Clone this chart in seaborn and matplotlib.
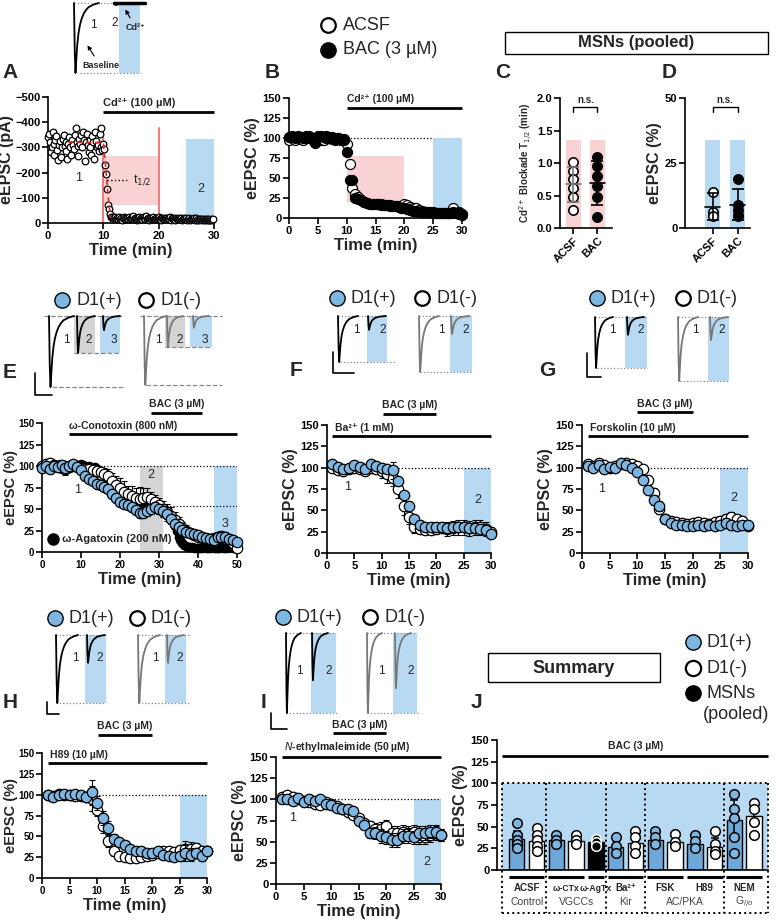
import matplotlib

matplotlib.use("Agg")

import matplotlib.pyplot as plt
import numpy as np
import pandas as pd
import seaborn as sns
from matplotlib.patches import Rectangle

W, H = 777, 922

BLUE_MARK = "#7db6e0"
BLUE_BAR = "#6ea8d9"
BLUE_BAND = "#b7d9f2"
PINK_BAND = "#f9d3d3"
GRAY_BAND = "#d4d4d4"
RED_LINE = "#ef7f7f"
TRACE_GRAY = "#777777"

# ---------------- data ----------------
# A: single cell, one sweep every 10 s
A_STEP = 1 / 6
A_BASELINE = [
    -340, -355, -320, -280, -300, -360, -315, -270, -330, -345,
    -290, -250, -310, -325, -260, -300, -335, -350, -305, -285,
    -320, -255, -315, -340, -300, -270, -330, -310, -295, -350,
    -375, -320, -305, -265, -335, -315, -350, -300, -360, -330,
    -245, -320, -355, -310, -280, -330, -300, -270, -345, -320,
    -255, -360, -325, -300, -310, -285, -355, -300, -375, -290,
]
A_TRANSITION = [-315, -295, -230, -195, -135, -70, -55, -35, -25]
A_TAIL = [
    -18, -22, -15, -20, -25, -14, -19, -17, -23, -16,
    -20, -13, -18, -24, -15, -21, -17, -19, -14, -22,
    -16, -20, -18, -26, -15, -19, -21, -13, -17, -20,
    -24, -16, -18, -14, -22, -19, -15, -28, -17, -20,
    -13, -18, -21, -16, -19, -23, -15, -17, -20, -14,
    -18, -22, -16, -19, -13, -21, -17, -15, -20, -18,
    -14, -19, -16, -22, -12, -18, -15, -20, -17, -13,
    -19, -16, -14, -21, -15, -18, -12, -17, -20, -14,
    -16, -19, -13, -15, -18, -11, -17, -14, -16, -20,
    -12, -15, -18, -13, -16, -10, -14, -17, -12, -15,
    -13, -16, -11, -14, -12, -15, -10, -13, -16, -12, -14,
]
A_FIT_T = [3.6, 10.0, 10.4, 10.8, 11.3]
A_FIT_Y = [-322, -318, -230, -120, -20]

# B: pooled MSNs, 30 s bins
B_STEP = 0.5
B_ACSF = [
    97, 100, 98, 101, 99, 97, 100, 102, 99, 96, 100, 98, 97, 100, 101, 99, 97, 100, 98, 99,
    92, 67, 38, 30, 26, 22, 20, 19, 18, 17, 17, 17, 16, 16, 16, 15, 15, 15, 15, 15,
    18, 16, 14, 13, 12, 10, 9, 8, 8, 7, 6, 6, 6, 6, 6, 6, 6, 12, 6, 5, 4,
]
B_BAC = [
    101, 102, 100, 103, 101, 100, 102, 101, 99, 94, 102, 103, 101, 102, 100, 101, 99, 100, 98, 97,
    82, 48, 47, 25, 24, 22, 20, 19, 18, 18, 17, 17, 17, 16, 16, 16, 15, 15, 14, 13,
    12, 11, 10, 9, 9, 8, 8, 7, 7, 7, 7, 6, 6, 6, 6, 6, 6, 7, 6, 7, 5,
]

# C / D: individual cells
C_ACSF = [1.02, 0.88, 0.75, 0.62, 0.48, 0.27]
C_BAC = [1.10, 0.96, 0.80, 0.64, 0.48, 0.17]
C_BAND = 1.35
D_ACSF = [14, 6, 4.5]
D_BAC = [19, 9, 7, 5, 4.5]
D_BAND = 34

# E: 1 min bins (agatoxin 30 s bins)
E_D1P = [98, 100, 97, 100, 99, 101, 98, 100, 102, 99, 95, 88, 85, 82, 79, 78, 76, 73, 67, 63,
         58, 56, 55, 52, 49, 45, 45, 48, 50, 52, 50, 48, 44, 38, 33, 29, 26, 23, 22, 21,
         20, 18, 16, 15, 14, 17, 18, 17, 15, 14, 12]
E_D1P_ERR = [2, 2, 2, 2, 2, 2, 3, 2, 2, 2, 3, 3, 3, 3, 3, 3, 4, 4, 4, 4,
             5, 5, 5, 5, 5, 6, 6, 6, 6, 6, 6, 6, 6, 6, 5, 5, 5, 4, 4, 4,
             4, 3, 3, 3, 3, 3, 3, 3, 3, 3, 3]
E_D1N = [100, 102, 104, 101, 100, 98, 97, 99, 101, 100, 98, 97, 96, 95, 94, 93, 91, 88, 83, 78,
         74, 70, 67, 65, 63, 62, 63, 64, 62, 58, 55, 50, 46, 42, 37, 33, 28, 25, 22, 20,
         18, 16, 15, 15, 16, 18, 19, 18, 15, 10, 5]
E_D1N_ERR = [3, 3, 3, 3, 3, 3, 8, 3, 3, 3, 3, 3, 4, 5, 6, 6, 7, 8, 9, 10,
             12, 12, 10, 12, 12, 14, 12, 10, 8, 8, 8, 9, 10, 10, 9, 8, 7, 6, 5, 5,
             5, 4, 4, 4, 4, 4, 4, 4, 4, 4, 4]
E_AGA = [100, 99, 101, 100, 98, 100, 101, 99, 100, 102, 100, 99, 101, 100, 98, 99, 101, 100, 99, 100,
         102, 101, 100, 99, 100, 98, 97, 99, 96, 95, 94, 92, 90, 88, 86, 84, 82, 80, 77, 75,
         72, 70, 67, 65, 62, 60, 58, 57, 56, 55, 55, 54, 55, 56, 55, 54, 54, 53, 52, 52,
         51, 50, 49, 47, 45, 43, 40, 36, 30, 24, 18, 14, 10, 8, 7, 6, 6, 6, 5, 5,
         5, 5, 5, 6, 5, 5, 5, 6, 5, 5, 5, 5, 6, 5, 5, 5, 6, 6, 5, 5, 5]

# F-I: 1 min bins starting at minute 1
F_D1P = [104, 101, 98, 100, 103, 101, 98, 104, 102, 100, 99, 97, 84, 68, 55, 40, 33, 31, 30, 31,
         30, 29, 30, 31, 30, 29, 29, 28, 27, 22]
F_D1P_ERR = [3, 3, 3, 3, 3, 3, 3, 3, 3, 3, 3, 10, 3, 4, 4, 4, 4, 4, 4, 4,
             4, 4, 4, 4, 4, 4, 4, 4, 4, 4]
F_D1N = [100, 97, 96, 99, 100, 98, 96, 100, 99, 96, 92, 88, 75, 55, 42, 30, 28, 27, 27, 28,
         29, 28, 29, 30, 30, 29, 30, 30, 28, 25]
F_D1N_ERR = [4, 4, 4, 4, 4, 4, 4, 4, 5, 8, 10, 10, 10, 10, 8, 6, 5, 5, 5, 6,
             6, 8, 8, 9, 9, 9, 9, 9, 8, 6]
G_D1P = [102, 100, 103, 98, 101, 100, 105, 103, 100, 95, 86, 74, 62, 55, 40, 35, 33, 33, 32, 32,
         33, 32, 33, 32, 33, 35, 33, 32, 33, 33]
G_D1N = [104, 102, 105, 103, 100, 102, 104, 106, 104, 102, 98, 85, 70, 52, 40, 37, 36, 35, 34, 35,
         36, 35, 34, 36, 38, 40, 42, 40, 38, 32]
G_ERR = [3, 3, 3, 3, 3, 3, 3, 4, 3, 3, 4, 5, 6, 6, 5, 4, 4, 4, 4, 4,
         4, 4, 5, 5, 5, 6, 6, 5, 5, 4]
H_D1P = [100, 97, 100, 101, 100, 101, 100, 97, 103, 90, 72, 60, 47, 43, 40, 35, 33, 32, 30, 30,
         32, 28, 27, 25, 27, 30, 28, 30, 27, 33]
H_D1N = [100, 99, 101, 100, 100, 99, 98, 97, 95, 82, 62, 45, 32, 27, 25, 24, 24, 25, 27, 28,
         30, 33, 33, 31, 34, 35, 35, 36, 33, 33]
H_ERR = [3, 3, 3, 3, 3, 3, 3, 3, 15, 8, 8, 8, 6, 5, 4, 4, 4, 4, 4, 4,
         4, 4, 4, 4, 6, 10, 8, 6, 6, 5]
I_D1P = [100, 100, 98, 102, 97, 100, 98, 100, 95, 93, 90, 88, 88, 86, 75, 70, 60, 60, 57, 55,
         52, 52, 57, 57, 55, 60, 60, 62, 62, 58]
I_D1N = [103, 105, 103, 100, 98, 97, 95, 93, 97, 95, 92, 88, 85, 82, 78, 72, 68, 65, 65, 68,
         60, 60, 62, 60, 62, 55, 55, 58, 60, 58]
I_ERR = [2, 2, 2, 2, 2, 2, 2, 2, 3, 3, 3, 3, 3, 3, 4, 5, 6, 7, 8, 8,
         8, 8, 8, 8, 8, 8, 8, 8, 8, 7]

# J: summary at 25-30 min
J_CONDITION = ["ACSF", "ACSF", "ω-CTx", "ω-CTx", "ω-AgTx", "Ba²⁺", "Ba²⁺",
               "FSK", "FSK", "H89", "H89", "NEM", "NEM"]
J_GROUP = ["Control", "Control", "VGCCs", "VGCCs", "VGCCs", "Kir", "Kir",
           "AC/PKA", "AC/PKA", "AC/PKA", "AC/PKA", "G$_{i/o}$", "G$_{i/o}$"]
J_CELL = ["D1(+)", "D1(-)", "D1(+)", "D1(-)", "MSNs", "D1(+)", "D1(-)",
          "D1(+)", "D1(-)", "D1(+)", "D1(-)", "D1(+)", "D1(-)"]
J_MEAN = [36, 33, 35, 34, 32, 27, 31, 35, 32, 30, 26, 58, 62]
J_SEM = [9, 6, 5, 5, 4, 8, 8, 7, 6, 7, 11, 23, 10]
J_POINTS = [[54, 40, 35, 30, 25], [48, 40, 35, 28, 22], [40, 35, 30], [40, 35, 30],
            [36, 32, 28], [38, 28, 20], [45, 38, 28, 20], [45, 38, 30], [42, 32, 28],
            [40, 33, 25], [45, 30, 22, 18], [88, 70, 60, 38, 20], [77, 70, 55, 40]]

# example EPSC waveform (normalised) and amplitudes of the example traces
TRACE_T = [0, 0.03, 0.06, 0.09, 0.13, 0.18, 0.24, 0.31, 0.39, 0.48, 0.58, 0.69, 0.8, 0.9, 1.0]
TRACE_SHAPE = [0, -0.7, -1.0, -0.82, -0.6, -0.43, -0.31, -0.22, -0.15, -0.1, -0.06, -0.04, -0.02, -0.01, 0]
TRACE_A = [1.0, 0.03]
TRACE_E_D1P = [1.0, 0.52, 0.2]
TRACE_E_D1N = [1.0, 0.45, 0.17]
TRACE_F_D1P = [1.0, 0.3]
TRACE_F_D1N = [1.0, 0.32]
TRACE_G_D1P = [1.0, 0.35]
TRACE_G_D1N = [1.0, 0.36]
TRACE_H_D1P = [1.0, 0.41]
TRACE_H_D1N = [1.0, 0.41]
TRACE_I_D1P = [1.0, 0.59]
TRACE_I_D1N = [1.0, 0.69]


def px_axes(fig, left, top, right, bottom):
    return fig.add_axes([left / W, 1 - bottom / H, (right - left) / W, (bottom - top) / H])


def style(ax, xlim, xticks, ylim, yticks, xlabel="Time (min)", ylabel="eEPSC (%)", fs=11.5,
          ylabelpad=2, ylabel_px=None, tick_fs=8):
    ax.set_xlim(xlim)
    ax.set_ylim(ylim)
    ax.set_xticks(xticks)
    ax.set_yticks(yticks)
    sns.despine(ax=ax)
    ax.tick_params(direction="out", length=4, width=1.2, labelsize=tick_fs, pad=1.5)
    for lab in ax.get_xticklabels() + ax.get_yticklabels():
        lab.set_fontweight("bold")
    ax.set_xlabel(xlabel, fontsize=12, fontweight="bold", labelpad=2)
    ax.set_ylabel(ylabel, fontsize=fs, fontweight="bold", labelpad=ylabelpad)
    if ylabel_px is not None:
        box = ax.get_position()
        ax.yaxis.set_label_coords((ylabel_px / W - box.x0) / box.width, 0.5)
    ax.set_facecolor("none")


def series(ax, t, vals, face, err=None, size=7.5, z=3, edge="black", lw=0.9):
    if err is not None:
        ax.errorbar(t, vals, yerr=err, fmt="none", ecolor="black", elinewidth=0.8,
                    capsize=2, capthick=0.8, zorder=z - 0.5, clip_on=False)
    sns.scatterplot(x=np.asarray(t, float), y=np.asarray(vals, float), color=face,
                    edgecolor=edge, linewidth=lw, s=size ** 2, ax=ax, zorder=z,
                    clip_on=False, legend=False)


def drug_bar(ax, x0, x1, y, text, text_y, text_x=None, ha="left", fs=7.5):
    ax.plot([x0, x1], [y, y], color="black", lw=2, clip_on=False, solid_capstyle="butt")
    ax.text(x0 if text_x is None else text_x, text_y, text, fontsize=fs,
            fontweight="bold", ha=ha, va="bottom", clip_on=False)


def band(ax, x0, x1, y0, y1, color, z=0):
    ax.add_patch(Rectangle((x0, y0), x1 - x0, y1 - y0, facecolor=color,
                           edgecolor="none", zorder=z))


def trace(ov, x0, top, bottom, width, amp, color, lw=1.3):
    xs = [x0 + t * width for t in TRACE_T]
    ys = [top - s * amp * (bottom - top) for s in TRACE_SHAPE]
    ov.plot(xs, ys, color=color, lw=lw, solid_capstyle="round")


def trace_panel(ov, top, bottom, x0s, widths, amps, color, rects, labels,
                hlines, ls=":"):
    for x0, x1, y1, c in rects:
        ov.add_patch(Rectangle((x0, top), x1 - x0, y1 - top, facecolor=c, edgecolor="none"))
    for a, b, y in hlines:
        ov.plot([a, b], [y, y], color="#888888", lw=0.9, ls=ls)
    for x0, w, amp in zip(x0s, widths, amps):
        trace(ov, x0, top, bottom, w, amp, color)
    for x, y, s in labels:
        ov.text(x, y, s, fontsize=8.5, ha="center", va="center", color="#222222")


def scale_bar(ov, x, y0, y1, x1):
    ov.plot([x, x, x1], [y0, y1, y1], color="black", lw=1.2)


def legend_pair(ov, x1, x2, y):
    ov.plot([x1], [y], "o", ms=11, mfc=BLUE_MARK, mec="black", mew=1)
    ov.text(x1 + 14, y, "D1(+)", fontsize=13, va="center")
    ov.plot([x2], [y], "o", ms=10.5, mfc="white", mec="black", mew=1.6)
    ov.text(x2 + 14, y, "D1(-)", fontsize=13, va="center")


def main() -> None:
    sns.set_theme(style="ticks")
    plt.rcParams["font.family"] = ["Liberation Sans", "DejaVu Sans"]
    plt.rcParams["axes.linewidth"] = 1.2
    plt.rcParams["axes.edgecolor"] = "black"
    plt.rcParams["xtick.color"] = "black"
    plt.rcParams["ytick.color"] = "black"

    fig = plt.figure(figsize=(W / 100, H / 100), dpi=100)
    ov = fig.add_axes([0, 0, 1, 1])
    ov.set_xlim(0, W)
    ov.set_ylim(H, 0)
    ov.axis("off")
    ov.set_zorder(5)

    # panel letters
    for letter, x, y in [("A", 10, 72), ("B", 272, 72), ("C", 503, 73), ("D", 669, 73),
                         ("E", 10, 372), ("F", 296, 370), ("G", 547, 370),
                         ("H", 10, 702), ("I", 263, 702), ("J", 476, 702)]:
        ov.text(x, y, letter, fontsize=15, fontweight="bold", ha="center", va="center")

    # ---- A ----
    ax = px_axes(fig, 48, 97, 214, 223)
    a_vals = A_BASELINE + A_TRANSITION + A_TAIL
    a_t = np.arange(len(a_vals)) * A_STEP
    band(ax, 10, 20, -70, -265, PINK_BAND)
    band(ax, 25, 30, 0, -335, BLUE_BAND)
    ax.plot([10, 10], [0, -375], color=RED_LINE, lw=1.5, zorder=1)
    ax.plot([20, 20], [0, -375], color=RED_LINE, lw=1.5, zorder=1)
    ax.plot(A_FIT_T, A_FIT_Y, color="#e03030", lw=1.3, ls=(0, (3, 2)), zorder=4)
    series(ax, a_t, a_vals, "white", size=4.8, z=3, lw=0.9)
    ax.plot([10.6, 14.3], [-172, -172], color="black", lw=1, ls=":", zorder=4)
    ax.text(15.3, -172, "t$_{1/2}$", fontsize=9, va="center")
    ax.text(5.5, -178, "1", fontsize=9, ha="center", va="center")
    ax.text(27.6, -135, "2", fontsize=9, ha="center", va="center")
    drug_bar(ax, 10, 30, -442, "Cd²⁺ (100 µM)", -458, text_x=10, fs=8)
    style(ax, (0, 30), [0, 10, 20, 30], (0, -500), [0, -100, -200, -300, -400, -500],
          ylabel="eEPSC (pA)", ylabelpad=1)

    # inset traces for A
    trace_panel(ov, 3, 73, [74, 114], [25, 31], TRACE_A, "black",
                rects=[(119, 140, 73, BLUE_BAND)],
                labels=[(93, 25, "1"), (115, 23, "2")],
                hlines=[(74, 145, 3), (80, 140, 73)])
    ov.plot([114, 145], [3, 3], color="black", lw=2.5)
    ov.annotate("Cd²⁺", xy=(124, 7), xytext=(126, 28), fontsize=6.5, fontweight="bold",
                va="center", arrowprops=dict(arrowstyle="-|>", color="black", lw=0.8,
                                             mutation_scale=6))
    ov.annotate("Baseline", xy=(86, 43), xytext=(82, 66), fontsize=6.5, fontweight="bold",
                va="center", arrowprops=dict(arrowstyle="-|>", color="black", lw=0.8,
                                             mutation_scale=6))

    # ---- B ----
    ax = px_axes(fig, 289, 98, 462, 218)
    band(ax, 10, 20, 20, 78, PINK_BAND)
    band(ax, 25, 30, 0, 100, BLUE_BAND)
    ax.plot([10, 25], [100, 100], color="black", lw=0.9, ls=":", zorder=1)
    bt = np.arange(len(B_ACSF)) * B_STEP
    series(ax, bt, B_ACSF, "white", size=7.2, z=3)
    series(ax, bt, B_BAC, "black", size=7.2, z=4)
    drug_bar(ax, 10, 30, 137, "Cd²⁺ (100 µM)", 142, text_x=10)
    style(ax, (0, 30), [0, 5, 10, 15, 20, 25, 30], (0, 150), [0, 25, 50, 75, 100, 125, 150])

    # top legend
    ov.plot([328], [25], "o", ms=10.5, mfc="white", mec="black", mew=1.6)
    ov.text(343, 25, "ACSF", fontsize=13, va="center")
    ov.plot([328], [50], "o", ms=11, mfc="black", mec="black")
    ov.text(343, 50, "BAC (3 µM)", fontsize=13, va="center")

    # MSNs box
    ov.add_patch(Rectangle((505, 32), 263, 22, facecolor="white", edgecolor="black", lw=1))
    ov.text(636, 43, "MSNs (pooled)", fontsize=12, fontweight="bold", ha="center", va="center")

    # ---- C ----
    ax = px_axes(fig, 560, 98, 612, 228)
    for i, (pts, face, ecol) in enumerate([(C_ACSF, "white", "#777777"), (C_BAC, "black", "black")]):
        band(ax, i - 0.31, i + 0.31, 0, C_BAND, PINK_BAND)
        m, sd = np.mean(pts), np.std(pts, ddof=1)
        ax.plot([i - 0.3, i + 0.3], [m, m], color=ecol, lw=1.2, zorder=4)
        ax.errorbar([i], [m], yerr=[sd], fmt="none", ecolor=ecol, elinewidth=1.2,
                    capsize=4, capthick=1.2, zorder=4)
        sns.scatterplot(x=[i] * len(pts), y=pts, color=face, edgecolor="black",
                        linewidth=1.2, s=45, ax=ax, zorder=3, legend=False, clip_on=False)
    ax.plot([0, 0, 1, 1], [1.78, 1.86, 1.86, 1.78], color="black", lw=1, clip_on=False)
    ax.text(0.5, 1.9, "n.s.", fontsize=7, fontweight="bold", ha="center", va="bottom")
    style(ax, (-0.55, 1.6), [0, 1], (0, 2), [0, 0.5, 1.0, 1.5, 2.0], xlabel="",
          ylabel="Cd$^{2+}$ Blockade T$_{1/2}$ (min)", fs=7)
    ax.yaxis.set_major_formatter(matplotlib.ticker.FormatStrFormatter("%.1f"))
    ax.set_xticklabels(["ACSF", "BAC"], rotation=45, ha="right", rotation_mode="anchor",
                       fontsize=8, fontweight="bold")

    # ---- D ----
    ax = px_axes(fig, 685, 98, 750, 228)
    for i, (pts, face) in enumerate([(D_ACSF, "white"), (D_BAC, "black")]):
        band(ax, i - 0.3, i + 0.3, 0, D_BAND, BLUE_BAND)
        m, sd = np.mean(pts), np.std(pts, ddof=1)
        ax.plot([i - 0.3, i + 0.3], [m, m], color="black", lw=1.2, zorder=4)
        ax.errorbar([i], [m], yerr=[sd], fmt="none", ecolor="black", elinewidth=1.2,
                    capsize=4, capthick=1.2, zorder=4)
        sns.scatterplot(x=[i] * len(pts), y=pts, color=face, edgecolor="black",
                        linewidth=1.2, s=45, ax=ax, zorder=3, legend=False, clip_on=False)
    ax.plot([0, 0, 1, 1], [44.5, 46.5, 46.5, 44.5], color="black", lw=1, clip_on=False)
    ax.text(0.5, 47.5, "n.s.", fontsize=7, fontweight="bold", ha="center", va="bottom")
    style(ax, (-1.1, 1.5), [0, 1], (0, 50), [0, 25, 50], xlabel="")
    ax.set_xticklabels(["ACSF", "BAC"], rotation=45, ha="right", rotation_mode="anchor",
                       fontsize=8, fontweight="bold")

    # ---- E ----
    ax = px_axes(fig, 42, 423, 237, 552)
    band(ax, 25, 31, 0, 100, GRAY_BAND)
    band(ax, 44, 50, 0, 100, BLUE_BAND)
    ax.plot([9, 50], [100, 100], color="black", lw=0.9, ls=":", zorder=1)
    ax.plot([31, 50], [54, 54], color="black", lw=0.9, ls=":", zorder=1)
    series(ax, np.arange(len(E_AGA)) * 0.5, E_AGA, "black", size=6, z=2)
    series(ax, np.arange(len(E_D1N)), E_D1N, "white", err=E_D1N_ERR, size=7.5, z=3)
    series(ax, np.arange(len(E_D1P)), E_D1P, BLUE_MARK, err=E_D1P_ERR, size=7.5, z=4)
    ax.text(9, 72, "1", fontsize=9, ha="center", va="center", zorder=5)
    ax.text(28, 90, "2", fontsize=9, ha="center", va="center", zorder=5)
    ax.text(47, 33, "3", fontsize=9, ha="center", va="center", zorder=5)
    ax.plot([2.8], [15], "o", ms=8, mfc="black", mec="black", zorder=6)
    ax.text(5, 15, "ω-Agatoxin (200 nM)", fontsize=8, fontweight="bold", va="center", zorder=6)
    drug_bar(ax, 7, 50, 137, "ω-Conotoxin (800 nM)", 141, text_x=7)
    drug_bar(ax, 28, 41, 162, "BAC (3 µM)", 166, text_x=34.5, ha="center")
    style(ax, (0, 50), [0, 10, 20, 30, 40, 50], (0, 150), [0, 25, 50, 75, 100, 125, 150],
          ylabel_px=18, fs=10.5, tick_fs=7)

    legend_pair(ov, 62, 146, 300)
    trace_panel(ov, 316, 387, [49, 77, 103], [25, 18, 17], TRACE_E_D1P, "black",
                rects=[(74, 95, 353, GRAY_BAND), (100, 120, 353, BLUE_BAND)],
                labels=[(66, 340, "1"), (89, 340, "2"), (114, 340, "3")],
                hlines=[(44, 122, 316), (74, 120, 353), (52, 125, 387)], ls="--")
    trace_panel(ov, 316, 385, [144, 167, 193], [22, 16, 16], TRACE_E_D1N, TRACE_GRAY,
                rects=[(165, 185, 347, GRAY_BAND), (190, 212, 347, BLUE_BAND)],
                labels=[(158, 340, "1"), (180, 340, "2"), (205, 340, "3")],
                hlines=[(140, 222, 316), (165, 212, 347), (146, 222, 385)], ls="--")
    scale_bar(ov, 35, 373, 395, 52)

    # ---- F ----
    t30 = np.arange(1, 31)
    ax = px_axes(fig, 327, 425, 491, 553)
    band(ax, 25, 30, 0, 100, BLUE_BAND)
    ax.plot([13, 30], [100, 100], color="black", lw=0.9, ls=":", zorder=1)
    series(ax, t30, F_D1N, "white", err=F_D1N_ERR, z=3)
    series(ax, t30, F_D1P, BLUE_MARK, err=F_D1P_ERR, z=4)
    ax.text(3.8, 77, "1", fontsize=9, ha="center", va="center")
    ax.text(27.5, 62, "2", fontsize=9, ha="center", va="center")
    drug_bar(ax, 1, 30, 137, "Ba²⁺ (1 mM)", 141, text_x=1.5)
    drug_bar(ax, 10.3, 20, 163, "BAC (3 µM)", 167, text_x=15.2, ha="center")
    style(ax, (0, 30), [0, 5, 10, 15, 20, 25, 30], (0, 150), [0, 25, 50, 75, 100, 125, 150])

    legend_pair(ov, 337, 422, 298)
    trace_panel(ov, 316, 362, [338, 368], [20, 18], TRACE_F_D1P, "black",
                rects=[(367, 387, 362, BLUE_BAND)],
                labels=[(356, 330, "1"), (383, 330, "2")],
                hlines=[(338, 387, 316), (340, 395, 362)])
    trace_panel(ov, 316, 372, [419, 451], [20, 18], TRACE_F_D1N, TRACE_GRAY,
                rects=[(450, 472, 372, BLUE_BAND)],
                labels=[(441, 330, "1"), (466, 330, "2")],
                hlines=[(419, 472, 316), (420, 472, 372)])
    scale_bar(ov, 333, 352, 373, 354)

    # ---- G ----
    ax = px_axes(fig, 582, 425, 748, 553)
    band(ax, 25, 30, 0, 100, BLUE_BAND)
    ax.plot([10, 30], [100, 100], color="black", lw=0.9, ls=":", zorder=1)
    series(ax, t30, G_D1N, "white", err=G_ERR, z=3)
    series(ax, t30, G_D1P, BLUE_MARK, err=G_ERR, z=4)
    ax.text(3.5, 75, "1", fontsize=9, ha="center", va="center")
    ax.text(27.5, 65, "2", fontsize=9, ha="center", va="center")
    drug_bar(ax, 1, 30, 137, "Forskolin (10 µM)", 141, text_x=1.5)
    drug_bar(ax, 10, 20, 165, "BAC (3 µM)", 169, text_x=15, ha="center")
    style(ax, (0, 30), [0, 5, 10, 15, 20, 25, 30], (0, 150), [0, 25, 50, 75, 100, 125, 150])

    legend_pair(ov, 597, 683, 298)
    trace_panel(ov, 317, 368, [595, 627], [18, 17], TRACE_G_D1P, "black",
                rects=[(625, 647, 368, BLUE_BAND)],
                labels=[(612, 330, "1"), (641, 330, "2")],
                hlines=[(595, 647, 317), (597, 647, 368)])
    trace_panel(ov, 317, 381, [678, 710], [20, 18], TRACE_G_D1N, TRACE_GRAY,
                rects=[(708, 729, 381, BLUE_BAND)],
                labels=[(695, 330, "1"), (722, 330, "2")],
                hlines=[(678, 729, 317), (680, 729, 381)])
    scale_bar(ov, 587, 353, 377, 601)

    # ---- H ----
    ax = px_axes(fig, 42, 753, 207, 878)
    band(ax, 25, 30, 0, 100, BLUE_BAND)
    ax.plot([9, 30], [100, 100], color="black", lw=0.9, ls=":", zorder=1)
    series(ax, t30, H_D1N, "white", err=H_ERR, z=3)
    series(ax, t30, H_D1P, BLUE_MARK, err=H_ERR, z=4)
    drug_bar(ax, 1, 30, 138, "H89 (10 µM)", 142, text_x=1.5)
    drug_bar(ax, 10.2, 20, 172, "BAC (3 µM)", 176, text_x=15.1, ha="center")
    style(ax, (0, 30), [0, 5, 10, 15, 20, 25, 30], (0, 150), [0, 25, 50, 75, 100, 125, 150],
          ylabel_px=18, fs=10.5, tick_fs=7)

    legend_pair(ov, 55, 137, 618)
    trace_panel(ov, 635, 703, [56, 87], [22, 18], TRACE_H_D1P, "black",
                rects=[(85, 106, 703, BLUE_BAND)],
                labels=[(75, 658, "1"), (100, 658, "2")],
                hlines=[(56, 106, 635), (56, 106, 703)])
    trace_panel(ov, 635, 703, [138, 167], [22, 17], TRACE_H_D1N, TRACE_GRAY,
                rects=[(165, 186, 703, BLUE_BAND)],
                labels=[(155, 658, "1"), (180, 658, "2")],
                hlines=[(138, 190, 635), (138, 190, 703)])
    scale_bar(ov, 47, 702, 714, 59)

    # ---- I ----
    ax = px_axes(fig, 276, 757, 441, 884)
    band(ax, 25, 30, 0, 100, BLUE_BAND)
    ax.plot([10, 30], [100, 100], color="black", lw=0.9, ls=":", zorder=1)
    series(ax, t30, I_D1N, "white", err=I_ERR, z=3)
    series(ax, t30, I_D1P, BLUE_MARK, err=I_ERR, z=4)
    ax.text(3.1, 78, "1", fontsize=9, ha="center", va="center")
    ax.text(27.4, 26, "2", fontsize=9, ha="center", va="center")
    drug_bar(ax, 1, 30, 150, "$\\it{N}$-ethylmaleimide (50 µM)", 154, text_x=1.5)
    drug_bar(ax, 10.4, 20, 178, "BAC (3 µM)", 182, text_x=15.2, ha="center")
    style(ax, (0, 30), [0, 5, 10, 15, 20, 25, 30], (0, 150), [0, 25, 50, 75, 100, 125, 150])

    legend_pair(ov, 283, 370, 617)
    trace_panel(ov, 633, 713, [286, 312], [15, 16], TRACE_I_D1P, "black",
                rects=[(311, 336, 713, BLUE_BAND)],
                labels=[(299, 671, "1"), (329, 671, "2")],
                hlines=[(286, 336, 633), (286, 338, 713)])
    trace_panel(ov, 633, 713, [367, 395], [15, 16], TRACE_I_D1N, TRACE_GRAY,
                rects=[(393, 417, 713, BLUE_BAND)],
                labels=[(381, 671, "1"), (411, 671, "2")],
                hlines=[(367, 417, 633), (367, 419, 713)])
    scale_bar(ov, 271, 713, 729, 287)

    # ---- J ----
    ax = px_axes(fig, 497, 740, 768, 870)
    slots = [str(i) for i in range(len(J_MEAN))]
    bar_colors = {"D1(+)": BLUE_BAR, "D1(-)": "white", "MSNs": "black"}
    dot_colors = {"D1(+)": BLUE_MARK, "D1(-)": "white", "MSNs": "black"}
    dot_edges = {"D1(+)": "black", "D1(-)": "black", "MSNs": "white"}
    x_left, x_right, y_low = -0.75, 12.7, -50
    band(ax, x_left, x_right, 0, 100, BLUE_BAND, z=0)
    jdf = pd.DataFrame({"slot": slots, "mean": J_MEAN, "cell": J_CELL})
    sns.barplot(data=jdf, x="slot", y="mean", hue="slot",
                palette=[bar_colors[c] for c in J_CELL], legend=False, saturation=1,
                edgecolor="black", linewidth=1, width=0.78, ax=ax, zorder=2)
    pos = np.arange(len(J_MEAN))
    ax.errorbar(pos, J_MEAN, yerr=J_SEM, fmt="none", ecolor="black", elinewidth=1.1,
                capsize=3, capthick=1.1, zorder=3)
    for i, pts in enumerate(J_POINTS):
        c = J_CELL[i]
        sns.scatterplot(x=[i] * len(pts), y=pts, color=dot_colors[c], edgecolor=dot_edges[c],
                        linewidth=1.1, s=48, ax=ax, zorder=4, legend=False)

    # dotted group frame
    group_order = list(dict.fromkeys(J_GROUP))
    seps = []
    for g_prev, g_next in zip(group_order[:-1], group_order[1:]):
        last = max(i for i, g in enumerate(J_GROUP) if g == g_prev)
        first = min(i for i, g in enumerate(J_GROUP) if g == g_next)
        seps.append((last + first) / 2)
    for xs in [x_left] + seps + [x_right]:
        ax.plot([xs, xs], [100, y_low], color="black", lw=1.4, ls=":", clip_on=False, zorder=5)
    for yy in [100, y_low]:
        ax.plot([x_left, x_right], [yy, yy], color="black", lw=1.4, ls=":", clip_on=False,
                zorder=5)

    for cond in dict.fromkeys(J_CONDITION):
        idx = [i for i, c in enumerate(J_CONDITION) if c == cond]
        ax.plot([min(idx) - 0.4, max(idx) + 0.4], [-8, -8], color="black", lw=2.2,
                clip_on=False, solid_capstyle="butt")
        small = cond.startswith("ω")
        ax.text(np.mean(idx), -21, cond, fontsize=6.2 if small else 7, fontweight="bold",
                ha="center", va="center", clip_on=False)
    for g in group_order:
        idx = [i for i, gg in enumerate(J_GROUP) if gg == g]
        ax.text(np.mean(idx), -37, g, fontsize=7.5, color="#444444", ha="center",
                va="center", clip_on=False)

    drug_bar(ax, x_left, x_right, 131, "BAC (3 µM)", 137, text_x=6, ha="center")
    style(ax, (-1.0, x_right), [], (0, 150), [0, 25, 50, 75, 100, 125, 150], xlabel="")
    ax.set_xticks([])

    # summary box and J legend
    ov.add_patch(Rectangle((488, 653), 172, 29, facecolor="white", edgecolor="black", lw=1))
    ov.text(574, 668, "Summary", fontsize=13, fontweight="bold", ha="center", va="center")
    for y, face, mew, txt in [(642, BLUE_MARK, 1, "D1(+)"), (668, "white", 1.6, "D1(-)"),
                              (693, "black", 1, "MSNs")]:
        ov.plot([693], [y], "o", ms=11, mfc=face, mec="black", mew=mew)
        ov.text(707, y, txt, fontsize=13, va="center")
    ov.text(703, 714, "(pooled)", fontsize=13, va="center")

    fig.savefig("out.png", dpi=100)
    plt.close(fig)


if __name__ == "__main__":
    main()
